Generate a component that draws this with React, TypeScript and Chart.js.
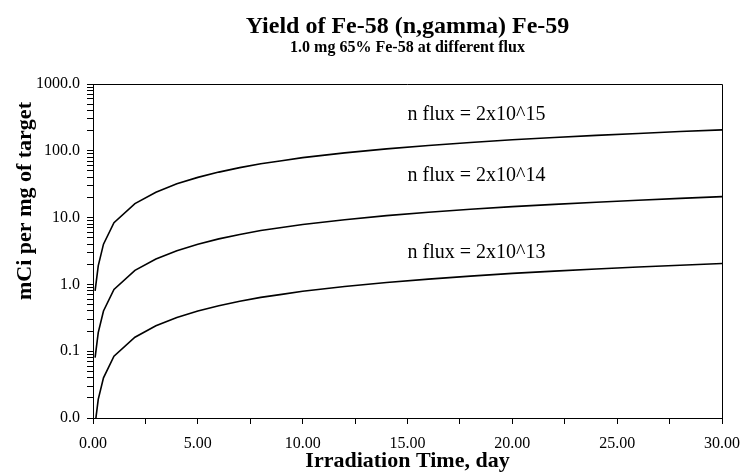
import React, { useEffect, useRef } from "react";
import { Chart, registerables } from "chart.js";

Chart.register(...registerables);

// Irradiation time (days)
const days = [0.1, 0.25, 0.5, 1, 2, 3, 4, 5, 6, 7, 8, 9, 10, 12, 14, 16, 18, 20, 22, 24, 26, 28, 30];
// Yield, mCi per mg of target
const flux15 = [0.8, 1.9, 4.0, 8.4, 16.2, 24, 32, 40, 48, 56, 64, 71, 79, 93, 107, 120, 133, 146, 158, 170, 182, 194, 206];
const flux14 = [0.08, 0.19, 0.4, 0.84, 1.62, 2.4, 3.2, 4.0, 4.8, 5.6, 6.4, 7.1, 7.9, 9.3, 10.7, 12.0, 13.3, 14.6, 15.8, 17.0, 18.2, 19.4, 20.6];
const flux13 = [0.008, 0.019, 0.04, 0.084, 0.162, 0.24, 0.32, 0.4, 0.48, 0.56, 0.64, 0.71, 0.79, 0.93, 1.07, 1.2, 1.33, 1.46, 1.58, 1.7, 1.82, 1.94, 2.06];

// Curve labels (anchored in data space)
const curveLabels = ["n flux = 2x10^15", "n flux = 2x10^14", "n flux = 2x10^13"];
const curveLabelDay = [15, 15, 15];
const curveLabelValue = [290, 35.7, 2.5];

// Axis ticks
const yDecades = [0.01, 0.1, 1, 10, 100, 1000];
const yMinorSteps = [1, 2, 3, 4, 5, 6, 7, 8, 9];
const xTickStep = 2.5;
const xLabelStep = 5;

const SERIF = "'Liberation Serif', 'Times New Roman', serif";

const frameAndText = {
  id: "frameAndText",
  afterDraw(chart: any) {
    const { ctx, chartArea, scales } = chart;
    ctx.save();
    ctx.strokeStyle = "#000";
    ctx.lineWidth = 1;
    ctx.beginPath();
    ctx.moveTo(chartArea.left, chartArea.top + 0.5);
    ctx.lineTo(chartArea.right + 0.5, chartArea.top + 0.5);
    ctx.lineTo(chartArea.right + 0.5, chartArea.bottom);
    ctx.stroke();

    ctx.fillStyle = "#000";
    ctx.font = `20px ${SERIF}`;
    ctx.textAlign = "left";
    ctx.textBaseline = "alphabetic";
    curveLabels.forEach((t, i) => {
      const x = scales.x.getPixelForValue(curveLabelDay[i]);
      const y = scales.y.getPixelForValue(curveLabelValue[i]);
      ctx.fillText(t, x, y);
    });

    // y-axis title
    ctx.font = `bold 22px ${SERIF}`;
    ctx.textAlign = "center";
    ctx.textBaseline = "middle";
    ctx.translate(25, 201);
    ctx.rotate(-Math.PI / 2);
    ctx.fillText("mCi per mg of target", 0, 0);
    ctx.restore();
  },
};

export default function App() {
  const ref = useRef<HTMLCanvasElement>(null);

  useEffect(() => {
    if (!ref.current) return;
    const mk = (data: number[]) => ({
      data: days.map((d, i) => ({ x: d, y: data[i] })),
      borderColor: "#000",
      borderWidth: 1.6,
      pointRadius: 0,
      tension: 0,
      fill: false,
    });
    const chart = new Chart(ref.current, {
      type: "line",
      data: {
        datasets: [mk(flux15), mk(flux14), mk(flux13)],
      },
      options: {
        animation: false,
        responsive: false,
        layout: { padding: { left: 0, right: 18, top: 0, bottom: 0 } },
        plugins: {
          legend: { display: false },
          tooltip: { enabled: false },
          title: {
            display: true,
            text: "Yield of Fe-58 (n,gamma) Fe-59",
            color: "#000",
            fullSize: false,
            font: { family: SERIF, size: 24, weight: "bold", lineHeight: 1 },
            padding: { top: 15, bottom: 0 },
          },
          subtitle: {
            display: true,
            text: "1.0 mg 65% Fe-58 at different flux",
            color: "#000",
            fullSize: false,
            font: { family: SERIF, size: 16, weight: "bold", lineHeight: 1 },
            padding: { top: 1, bottom: 28 },
          },
        },
        scales: {
          x: {
            type: "linear",
            min: 0,
            max: 30,
            afterFit: (s: any) => {
              s.height = 56;
              s.paddingLeft = 0;
              s.paddingRight = 0;
            },
            afterBuildTicks: (s: any) => {
              const t: any[] = [];
              for (let v = 0; v <= 30 + 1e-9; v += xTickStep) t.push({ value: v });
              s.ticks = t;
            },
            ticks: {
              autoSkip: false,
              maxRotation: 0,
              color: "#000",
              padding: 10,
              font: { family: SERIF, size: 16 },
              callback: (v: any) => {
                const n = Number(v);
                return Math.abs(n / xLabelStep - Math.round(n / xLabelStep)) < 1e-9 ? n.toFixed(2) : "";
              },
            },
            grid: {
              display: true,
              drawOnChartArea: false,
              drawTicks: true,
              tickLength: 6,
              tickColor: "#000",
            },
            border: { display: true, color: "#000", width: 1 },
            title: {
              display: true,
              text: "Irradiation Time, day",
              color: "#000",
              font: { family: SERIF, size: 22, weight: "bold", lineHeight: 1 },
              padding: { top: 0, bottom: 2 },
            },
          },
          y: {
            type: "logarithmic",
            min: 0.01,
            max: 1000,
            afterFit: (s: any) => {
              s.width = 93;
            },
            afterBuildTicks: (s: any) => {
              const t: any[] = [];
              yDecades.forEach((d, i) => {
                if (i === yDecades.length - 1) {
                  t.push({ value: d });
                } else {
                  yMinorSteps.forEach((m) => t.push({ value: d * m }));
                }
              });
              s.ticks = t;
            },
            ticks: {
              autoSkip: false,
              color: "#000",
              padding: 7,
              font: { family: SERIF, size: 16 },
              callback: (v: any) => {
                const n = Number(v);
                const l = Math.log10(n);
                return Math.abs(l - Math.round(l)) < 1e-9 ? n.toFixed(1) : "";
              },
            },
            grid: {
              display: true,
              drawOnChartArea: false,
              drawTicks: true,
              tickLength: 6,
              tickColor: "#000",
            },
            border: { display: true, color: "#000", width: 1 },
          },
        },
      },
      plugins: [frameAndText],
    });
    return () => chart.destroy();
  }, []);

  return (
    <div style={{ position: "absolute", left: 0, top: 0, width: 740, height: 474, background: "#fff" }}>
      <canvas ref={ref} width={740} height={474} />
    </div>
  );
}
